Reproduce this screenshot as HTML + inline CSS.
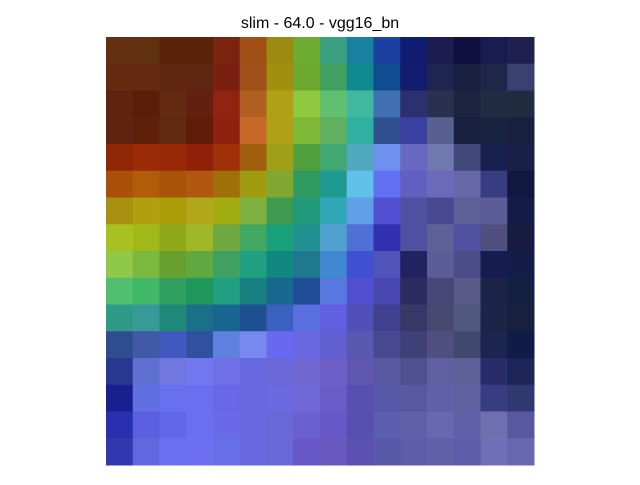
<!DOCTYPE html>
<html><head><meta charset="utf-8"><style>
body{margin:0;background:#fff;width:640px;height:480px;overflow:hidden;font-family:"Liberation Sans","DejaVu Sans",sans-serif}
</style></head><body>
<svg id="chart" width="640" height="480" xmlns="http://www.w3.org/2000/svg">
<rect width="640" height="480" fill="#fff"/>
<text x="320" y="28" text-anchor="middle" font-size="16" fill="#000" font-family="Liberation Sans, DejaVu Sans, sans-serif">slim - 64.0 - vgg16_bn</text>
<g id="cells"></g>
</svg>
<script>
const rows = [
["#62300f","#60300f","#5a2208","#5a2208","#7a2410","#a05014","#9a8a10","#6cac30","#3aa080","#1880a0","#1c40a0","#101c70","#1c1c50","#101040","#181c50","#202050"],
["#652a10","#652a10","#5e2610","#5e2610","#7a2010","#a05018","#a09010","#6ca830","#40a060","#108890","#104c90","#141c70","#1e2550","#1a2040","#202648","#3a4070"],
["#5e2410","#5a1e08","#652a12","#622010","#902410","#b06020","#b0a018","#90c840","#60c070","#40b8a0","#4070b0","#2c3070","#2a3050","#1c2440","#202c44","#202c40"],
["#5e2410","#5e2008","#622a10","#601c08","#902010","#c86828","#b0a018","#80b838","#60b060","#30b0a0","#305090","#3a40a0","#586090","#182040","#182440","#182040"],
["#902808","#9a2a08","#982808","#902008","#a03008","#a06010","#a0a018","#50a040","#40a870","#50a8c0","#7090f0","#6868c0","#7078b0","#40487a","#182050","#182048"],
["#aa5008","#b05c08","#a85408","#b05810","#a07008","#a09c10","#80a830","#309a60","#209a90","#60c0e8","#6070f0","#6060c0","#6a6ab8","#6868a8","#383c80","#101840"],
["#a89010","#b0a010","#aa9c08","#b0a818","#a0ac10","#80b040","#409a50","#209a78","#30a8b8","#60a0e8","#5050d0","#5050a0","#484890","#606098","#5c5c98","#141c48"],
["#a8c020","#a0b818","#90a818","#a0b828","#70a840","#40a860","#18a078","#209090","#50a0d0","#5070d8","#3030b0","#5050a0","#606098","#5050a0","#505080","#181c40"],
["#90c848","#7ab840","#68a030","#60a840","#40a060","#20a080","#108880","#207890","#4088d0","#4050d0","#5054b8","#222260","#5c5c98","#4c4c88","#141c50","#141c48"],
["#50c070","#40b868","#30a060","#20985c","#20a080","#188080","#186890","#204c98","#5878e0","#5050d0","#4848b0","#2c2c60","#484878","#5a5a88","#1c2448","#142040"],
["#309a88","#389a98","#208878","#1a7088","#186690","#1c5090","#3a60c0","#5a70e0","#6060e0","#5050b8","#404090","#383868","#484870","#505880","#1c2448","#182040"],
["#304c90","#405aa8","#4058c0","#3050a0","#6080e0","#7888f0","#6868f0","#6868e0","#6060d0","#5858b0","#484890","#404078","#505080","#404870","#1c2450","#101c48"],
["#283890","#6070d0","#7078e0","#7078f0","#7070e8","#6868e0","#6a68d8","#7068d0","#6c60c8","#6058b0","#5858a0","#505090","#6060a0","#606098","#282c68","#1c2458"],
["#182090","#6070e0","#6870f0","#6870f0","#6868e8","#6868e0","#6c6ae0","#7068d8","#6c5cc8","#5850b0","#5858a8","#5858a0","#6060a8","#6060a0","#383c80","#303870"],
["#2830b0","#5a60e0","#6068e8","#6870f0","#6a6ae8","#6868e0","#6868d8","#6a60d0","#6858c8","#5850b0","#5c5cb0","#6060a8","#6868b0","#6060a8","#7070b0","#5858a0"],
["#3038b0","#6068e0","#6a70f0","#6c70f0","#6870e8","#6868e0","#6868d8","#6858c8","#6858c0","#5c50b0","#5858a8","#5c5ca8","#6060a8","#5c5ca8","#7070b8","#6868b0"]
];
const x0=106, y0=37, size=428, n=rows.length, cs=size/n;
const g=document.getElementById('cells');
rows.forEach((r,i)=>r.forEach((c,j)=>{
  const el=document.createElementNS('http://www.w3.org/2000/svg','rect');
  
  
  el.setAttribute('x',x0+j*cs);el.setAttribute('y',y0+i*cs);
  el.setAttribute('width',cs+0.5);el.setAttribute('height',cs+0.5);
  el.setAttribute('fill',c);
  g.appendChild(el);
}));
</script>
</body></html>
